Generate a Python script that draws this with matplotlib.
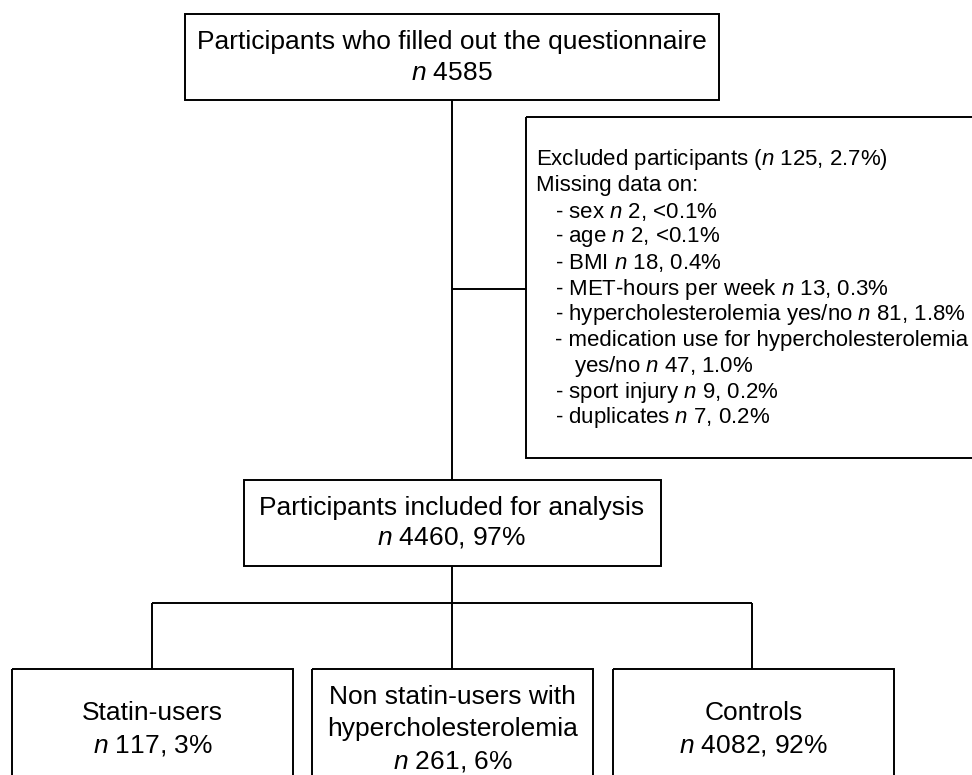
import matplotlib
matplotlib.use('Agg')
import matplotlib.pyplot as plt
from matplotlib.patches import Rectangle

plt.rcParams['font.family'] = ['Liberation Sans', 'DejaVu Sans']
plt.rcParams['mathtext.fontset'] = 'custom'
plt.rcParams['mathtext.rm'] = 'Liberation Sans'
plt.rcParams['mathtext.it'] = 'Liberation Sans:italic'

# box texts
top_text = ['Participants who filled out the questionnaire', '$n$ 4585']
included_text = ['Participants included for analysis', '$n$ 4460, 97%']
excluded_lines = [
    'Excluded participants ($n$ 125, 2.7%)',
    'Missing data on:',
    '- sex $n$ 2, <0.1%',
    '- age $n$ 2, <0.1%',
    '- BMI $n$ 18, 0.4%',
    '- MET-hours per week $n$ 13, 0.3%',
    '- hypercholesterolemia yes/no $n$ 81, 1.8%',
    '- medication use for hypercholesterolemia',
    'yes/no $n$ 47, 1.0%',
    '- sport injury $n$ 9, 0.2%',
    '- duplicates $n$ 7, 0.2%',
]
excluded_indent = [0, 0, 1, 1, 1, 1, 1, 1, 2, 1, 1]
groups = [
    ['Statin-users', '$n$ 117, 3%'],
    ['Non statin-users with', 'hypercholesterolemia', '$n$ 261, 6%'],
    ['Controls', '$n$ 4082, 92%'],
]

fig = plt.figure(figsize=(9.72, 7.75), dpi=100)
ax = fig.add_axes([0, 0, 1, 1])
ax.set_xlim(0, 972)
ax.set_ylim(775, 0)
ax.axis('off')

lw = 1.4


def box(x0, y0, x1, y1):
    ax.add_patch(Rectangle((x0, y0), x1 - x0, y1 - y0, fill=False,
                           edgecolor='black', lw=lw, clip_on=False))


def line(xs, ys):
    ax.plot(xs, ys, color='black', lw=lw, solid_capstyle='butt')


def centered(lines, cx, cy, size, step):
    n = len(lines)
    for i, t in enumerate(lines):
        y = cy + (i - (n - 1) / 2) * step
        ax.text(cx, y, t, ha='center', va='center', fontsize=size)


# top box
box(185, 14, 719, 100)
centered(top_text, 452, 58, 19, 31)

# trunk line
line([452, 452], [100, 480])
line([452, 526], [289, 289])

# excluded box
box(526, 117, 985, 458)
for i, t in enumerate(excluded_lines):
    x = 536 + excluded_indent[i] * 19
    ax.text(x, 160 + i * 25.8, t, ha='left', va='center', fontsize=16)

# included box
box(244, 480, 661, 566)
centered(included_text, 452, 523, 19, 29)

# split to groups
line([452, 452], [566, 603])
line([152, 752], [603, 603])
centers = [152, 452, 752]
lefts = [12, 312, 613]
rights = [293, 593, 894]
for i, g in enumerate(groups):
    line([centers[i], centers[i]], [603, 669])
    box(lefts[i], 669, rights[i], 800)
    centered(g, (lefts[i] + rights[i]) / 2, 729, 19, 32)

fig.savefig('out.png', dpi=100)
